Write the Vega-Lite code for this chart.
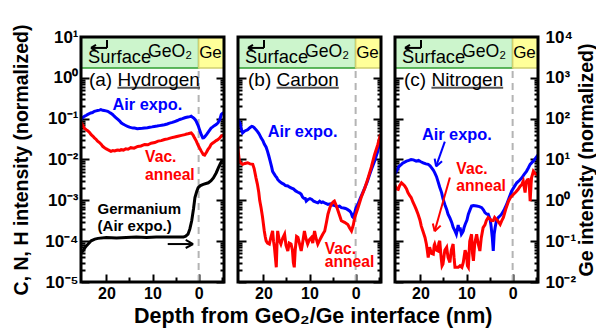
{
"$schema":"https://vega.github.io/schema/vega-lite/v6.json",
"padding":{"left":10,"top":24,"right":0,"bottom":0},
"background":"white",
"spacing":10,
"title":{"text":"Depth from GeO₂/Ge interface (nm)","orient":"bottom","anchor":"middle","fontSize":21.5,"font":"Liberation Sans","fontWeight":"bold","color":"black","offset":5,"dx":10},
"config":{"font":"Liberation Sans","view":{"stroke":null},"axis":{"domain":false,"grid":false,"tickColor":"black","tickWidth":2,"labelFont":"Liberation Sans","labelFontWeight":"bold","labelColor":"black","titleFont":"Liberation Sans","titleFontWeight":"bold","titleColor":"black"}},
"datasets":{
"boxes":[{"p":"a","part":"oxide","x1":25.5,"x2":0,"y1":1.74,"y2":10},{"p":"a","part":"gebox","x1":0,"x2":-5.5,"y1":1.74,"y2":10},{"p":"b","part":"oxide","x1":25.5,"x2":0,"y1":1.74,"y2":10},{"p":"b","part":"gebox","x1":0,"x2":-5.5,"y1":1.74,"y2":10},{"p":"c","part":"oxide","x1":25.5,"x2":0,"y1":1.74,"y2":10},{"p":"c","part":"gebox","x1":0,"x2":-5.5,"y1":1.74,"y2":10}],
"dash":[{"p":"a","x":0,"y1":0.00001,"y2":1.74},{"p":"b","x":0,"y1":0.00001,"y2":1.74},{"p":"c","x":0,"y1":0.00001,"y2":1.74}],
"frame":[{"p":"a","x1":25.5,"x2":-5.5,"y1":0.00001,"y2":10},{"p":"b","x1":25.5,"x2":-5.5,"y1":0.00001,"y2":10},{"p":"c","x1":25.5,"x2":-5.5,"y1":0.00001,"y2":10}],
"segs":[
{"p":"a","s":"ge","x1":23.33,"x2":19.86,"y1":5.4,"y2":5.4},{"p":"a","s":"ge","x1":19.86,"x2":19.86,"y1":5.4,"y2":8.45},{"p":"a","s":"ge","x1":23.33,"x2":22.25,"y1":5.4,"y2":6.38},{"p":"a","s":"ge","x1":23.33,"x2":22.25,"y1":5.4,"y2":4.56},
{"p":"b","s":"ge","x1":23.33,"x2":19.86,"y1":5.4,"y2":5.4},{"p":"b","s":"ge","x1":19.86,"x2":19.86,"y1":5.4,"y2":8.45},{"p":"b","s":"ge","x1":23.33,"x2":22.25,"y1":5.4,"y2":6.38},{"p":"b","s":"ge","x1":23.33,"x2":22.25,"y1":5.4,"y2":4.56},
{"p":"c","s":"ge","x1":23.33,"x2":19.86,"y1":5.4,"y2":5.4},{"p":"c","s":"ge","x1":19.86,"x2":19.86,"y1":5.4,"y2":8.45},{"p":"c","s":"ge","x1":23.33,"x2":22.25,"y1":5.4,"y2":6.38},{"p":"c","s":"ge","x1":23.33,"x2":22.25,"y1":5.4,"y2":4.56},
{"p":"a","s":"ul","x1":17.6,"x2":-0.3,"y1":0.575,"y2":0.575},
{"p":"a","s":"ge","x1":6.7,"x2":1.2,"y1":8.5e-5,"y2":8.5e-5},
{"p":"a","s":"ge","x1":1.2,"x2":2.8,"y1":8.5e-5,"y2":1.07e-4},
{"p":"a","s":"ge","x1":1.2,"x2":2.8,"y1":8.5e-5,"y2":6.8e-5},
{"p":"b","s":"ul","x1":17.15,"x2":3.65,"y1":0.575,"y2":0.575},
{"p":"c","s":"ul","x1":17.6,"x2":2.05,"y1":0.575,"y2":0.575},
{"p":"c","s":"air","x1":14.7,"x2":16.6,"y1":2.75e-2,"y2":6.76e-3},
{"p":"c","s":"air","x1":16.6,"x2":15.3,"y1":6.76e-3,"y2":9.1e-3},
{"p":"c","s":"air","x1":16.6,"x2":16.9,"y1":6.76e-3,"y2":1.05e-2},
{"p":"c","s":"vac","x1":13.6,"x2":16.9,"y1":3.63e-3,"y2":1.74e-4},
{"p":"c","s":"vac","x1":16.9,"x2":15.6,"y1":1.74e-4,"y2":2.4e-4},
{"p":"c","s":"vac","x1":16.9,"x2":17.3,"y1":1.74e-4,"y2":2.7e-4}],
"notes":[
{"p":"a","role":"ptitle","x":23.77,"y":0.89,"t":"(a) Hydrogen"},
{"p":"a","role":"surface","x":23.98,"y":3.0,"t":"Surface"},
{"p":"a","role":"geo","x":6.2,"y":4.3,"t":"GeO₂"},
{"p":"a","role":"ge","x":-2.57,"y":4.0,"t":"Ge"},
{"p":"a","role":"air","x":11.1,"y":0.22,"t":"Air expo."},
{"p":"a","role":"vac","x":11.6,"y":0.0117,"t":"Vac."},
{"p":"a","role":"vac","x":11.6,"y":0.00427,"t":"anneal"},
{"p":"a","role":"gelab","x":21.9,"y":6.0e-4,"t":"Germanium"},
{"p":"a","role":"gelab","x":21.9,"y":2.34e-4,"t":"(Air expo.)"},
{"p":"b","role":"ptitle","x":23.33,"y":0.89,"t":"(b) Carbon"},
{"p":"b","role":"surface","x":23.98,"y":3.0,"t":"Surface"},
{"p":"b","role":"geo","x":6.2,"y":4.3,"t":"GeO₂"},
{"p":"b","role":"ge","x":-2.57,"y":4.0,"t":"Ge"},
{"p":"b","role":"air","x":11.5,"y":0.046,"t":"Air expo."},
{"p":"b","role":"vac","x":6.7,"y":6.3e-5,"t":"Vac."},
{"p":"b","role":"vac","x":6.7,"y":3.1e-5,"t":"anneal"},
{"p":"c","role":"ptitle","x":23.55,"y":0.89,"t":"(c) Nitrogen"},
{"p":"c","role":"surface","x":23.98,"y":3.0,"t":"Surface"},
{"p":"c","role":"geo","x":6.2,"y":4.3,"t":"GeO₂"},
{"p":"c","role":"ge","x":-2.57,"y":4.0,"t":"Ge"},
{"p":"c","role":"air","x":12.1,"y":0.0407,"t":"Air expo."},
{"p":"c","role":"vac","x":12.2,"y":5.75e-3,"t":"Vac."},
{"p":"c","role":"vac","x":12.2,"y":2.19e-3,"t":"anneal"}],
"curves":[
{"p":"a","s":"air","x":25.5,"y":0.0955},{"p":"a","s":"air","x":25.2,"y":0.105},{"p":"a","s":"air","x":24.9,"y":0.112},{"p":"a","s":"air","x":24.6,"y":0.117},{"p":"a","s":"air","x":24.3,"y":0.121},{"p":"a","s":"air","x":24.1,"y":0.126},{"p":"a","s":"air","x":23.7,"y":0.132},{"p":"a","s":"air","x":23.4,"y":0.138},{"p":"a","s":"air","x":23.0,"y":0.141},{"p":"a","s":"air","x":22.6,"y":0.151},{"p":"a","s":"air","x":22.2,"y":0.155},{"p":"a","s":"air","x":21.9,"y":0.158},{"p":"a","s":"air","x":21.5,"y":0.162},{"p":"a","s":"air","x":21.2,"y":0.166},{"p":"a","s":"air","x":20.8,"y":0.160},{"p":"a","s":"air","x":20.5,"y":0.158},{"p":"a","s":"air","x":20.1,"y":0.155},{"p":"a","s":"air","x":19.7,"y":0.151},{"p":"a","s":"air","x":19.3,"y":0.141},{"p":"a","s":"air","x":19.0,"y":0.135},{"p":"a","s":"air","x":18.6,"y":0.125},{"p":"a","s":"air","x":18.3,"y":0.115},{"p":"a","s":"air","x":17.9,"y":0.105},{"p":"a","s":"air","x":17.5,"y":0.0955},{"p":"a","s":"air","x":17.1,"y":0.087},{"p":"a","s":"air","x":16.8,"y":0.0794},{"p":"a","s":"air","x":16.4,"y":0.0741},{"p":"a","s":"air","x":16.1,"y":0.0708},{"p":"a","s":"air","x":15.7,"y":0.067},{"p":"a","s":"air","x":15.4,"y":0.0646},{"p":"a","s":"air","x":15.0,"y":0.062},{"p":"a","s":"air","x":14.6,"y":0.0603},{"p":"a","s":"air","x":14.2,"y":0.059},{"p":"a","s":"air","x":13.9,"y":0.0589},{"p":"a","s":"air","x":13.3,"y":0.057},{"p":"a","s":"air","x":12.8,"y":0.0575},{"p":"a","s":"air","x":12.2,"y":0.058},{"p":"a","s":"air","x":11.7,"y":0.0589},{"p":"a","s":"air","x":11.1,"y":0.06},{"p":"a","s":"air","x":10.6,"y":0.0617},{"p":"a","s":"air","x":10.1,"y":0.063},{"p":"a","s":"air","x":9.6,"y":0.0646},{"p":"a","s":"air","x":9.0,"y":0.066},{"p":"a","s":"air","x":8.5,"y":0.0676},{"p":"a","s":"air","x":8.0,"y":0.069},{"p":"a","s":"air","x":7.4,"y":0.0708},{"p":"a","s":"air","x":6.8,"y":0.074},{"p":"a","s":"air","x":6.3,"y":0.0776},{"p":"a","s":"air","x":5.7,"y":0.081},{"p":"a","s":"air","x":5.2,"y":0.0851},{"p":"a","s":"air","x":4.6,"y":0.09},{"p":"a","s":"air","x":4.1,"y":0.0955},{"p":"a","s":"air","x":3.5,"y":0.1},{"p":"a","s":"air","x":3.0,"y":0.105},{"p":"a","s":"air","x":2.6,"y":0.108},{"p":"a","s":"air","x":2.3,"y":0.11},{"p":"a","s":"air","x":1.9,"y":0.112},{"p":"a","s":"air","x":1.6,"y":0.115},{"p":"a","s":"air","x":1.3,"y":0.108},{"p":"a","s":"air","x":1.0,"y":0.102},{"p":"a","s":"air","x":0.7,"y":0.093},{"p":"a","s":"air","x":0.5,"y":0.0851},{"p":"a","s":"air","x":0.3,"y":0.076},{"p":"a","s":"air","x":0.1,"y":0.0676},{"p":"a","s":"air","x":-0.2,"y":0.0537},{"p":"a","s":"air","x":-0.4,"y":0.046},{"p":"a","s":"air","x":-0.6,"y":0.0398},{"p":"a","s":"air","x":-0.9,"y":0.0339},{"p":"a","s":"air","x":-1.1,"y":0.034},{"p":"a","s":"air","x":-1.3,"y":0.0355},{"p":"a","s":"air","x":-1.7,"y":0.0407},{"p":"a","s":"air","x":-2.2,"y":0.049},{"p":"a","s":"air","x":-2.7,"y":0.0589},{"p":"a","s":"air","x":-3.0,"y":0.062},{"p":"a","s":"air","x":-3.4,"y":0.0676},{"p":"a","s":"air","x":-3.8,"y":0.072},{"p":"a","s":"air","x":-4.2,"y":0.0794},{"p":"a","s":"air","x":-4.6,"y":0.0955},{"p":"a","s":"air","x":-4.9,"y":0.126},{"p":"a","s":"air","x":-5.2,"y":0.135},{"p":"a","s":"air","x":-5.5,"y":0.141},
{"p":"a","s":"vac","x":25.5,"y":0.0832},{"p":"a","s":"vac","x":25.2,"y":0.0708},{"p":"a","s":"vac","x":24.8,"y":0.0589},{"p":"a","s":"vac","x":24.4,"y":0.054},{"p":"a","s":"vac","x":24.0,"y":0.0501},{"p":"a","s":"vac","x":23.6,"y":0.045},{"p":"a","s":"vac","x":23.3,"y":0.0407},{"p":"a","s":"vac","x":22.9,"y":0.037},{"p":"a","s":"vac","x":22.6,"y":0.0339},{"p":"a","s":"vac","x":22.2,"y":0.031},{"p":"a","s":"vac","x":21.9,"y":0.0282},{"p":"a","s":"vac","x":21.5,"y":0.026},{"p":"a","s":"vac","x":21.1,"y":0.0234},{"p":"a","s":"vac","x":20.8,"y":0.021},{"p":"a","s":"vac","x":20.4,"y":0.0195},{"p":"a","s":"vac","x":20.0,"y":0.0182},{"p":"a","s":"vac","x":19.7,"y":0.0174},{"p":"a","s":"vac","x":19.3,"y":0.0165},{"p":"a","s":"vac","x":19.0,"y":0.0158},{"p":"a","s":"vac","x":18.6,"y":0.0165},{"p":"a","s":"vac","x":18.2,"y":0.0162},{"p":"a","s":"vac","x":17.8,"y":0.0168},{"p":"a","s":"vac","x":17.5,"y":0.017},{"p":"a","s":"vac","x":17.1,"y":0.0166},{"p":"a","s":"vac","x":16.8,"y":0.0174},{"p":"a","s":"vac","x":16.3,"y":0.017},{"p":"a","s":"vac","x":15.8,"y":0.0182},{"p":"a","s":"vac","x":15.3,"y":0.0178},{"p":"a","s":"vac","x":14.7,"y":0.0195},{"p":"a","s":"vac","x":14.0,"y":0.019},{"p":"a","s":"vac","x":13.2,"y":0.0209},{"p":"a","s":"vac","x":12.5,"y":0.0215},{"p":"a","s":"vac","x":11.7,"y":0.0234},{"p":"a","s":"vac","x":11.0,"y":0.023},{"p":"a","s":"vac","x":10.3,"y":0.0251},{"p":"a","s":"vac","x":9.5,"y":0.026},{"p":"a","s":"vac","x":8.8,"y":0.0282},{"p":"a","s":"vac","x":8.1,"y":0.029},{"p":"a","s":"vac","x":7.4,"y":0.0309},{"p":"a","s":"vac","x":6.7,"y":0.032},{"p":"a","s":"vac","x":6.0,"y":0.0339},{"p":"a","s":"vac","x":5.2,"y":0.0355},{"p":"a","s":"vac","x":4.5,"y":0.0372},{"p":"a","s":"vac","x":3.7,"y":0.039},{"p":"a","s":"vac","x":3.0,"y":0.0407},{"p":"a","s":"vac","x":2.6,"y":0.042},{"p":"a","s":"vac","x":2.3,"y":0.0427},{"p":"a","s":"vac","x":1.9,"y":0.044},{"p":"a","s":"vac","x":1.6,"y":0.0447},{"p":"a","s":"vac","x":1.2,"y":0.0398},{"p":"a","s":"vac","x":0.9,"y":0.0339},{"p":"a","s":"vac","x":0.5,"y":0.0282},{"p":"a","s":"vac","x":0.2,"y":0.0234},{"p":"a","s":"vac","x":-0.2,"y":0.0191},{"p":"a","s":"vac","x":-0.6,"y":0.0158},{"p":"a","s":"vac","x":-1.0,"y":0.0132},{"p":"a","s":"vac","x":-1.3,"y":0.0128},{"p":"a","s":"vac","x":-1.7,"y":0.0151},{"p":"a","s":"vac","x":-2.0,"y":0.0174},{"p":"a","s":"vac","x":-2.4,"y":0.02},{"p":"a","s":"vac","x":-2.7,"y":0.0234},{"p":"a","s":"vac","x":-3.0,"y":0.025},{"p":"a","s":"vac","x":-3.4,"y":0.0269},{"p":"a","s":"vac","x":-3.8,"y":0.029},{"p":"a","s":"vac","x":-4.2,"y":0.0309},{"p":"a","s":"vac","x":-4.6,"y":0.034},{"p":"a","s":"vac","x":-4.9,"y":0.0372},{"p":"a","s":"vac","x":-5.2,"y":0.039},{"p":"a","s":"vac","x":-5.5,"y":0.0398},
{"p":"a","s":"ge","x":25.5,"y":5.01e-5},{"p":"a","s":"ge","x":25.1,"y":5.75e-5},{"p":"a","s":"ge","x":24.7,"y":6.76e-5},{"p":"a","s":"ge","x":24.3,"y":7.76e-5},{"p":"a","s":"ge","x":23.8,"y":8.91e-5},{"p":"a","s":"ge","x":23.3,"y":1.02e-4},{"p":"a","s":"ge","x":22.5,"y":1.12e-4},{"p":"a","s":"ge","x":21.8,"y":1.17e-4},{"p":"a","s":"ge","x":20.0,"y":1.23e-4},{"p":"a","s":"ge","x":17.8,"y":1.2e-4},{"p":"a","s":"ge","x":15.7,"y":1.23e-4},{"p":"a","s":"ge","x":13.5,"y":1.26e-4},{"p":"a","s":"ge","x":11.3,"y":1.23e-4},{"p":"a","s":"ge","x":9.2,"y":1.26e-4},{"p":"a","s":"ge","x":7.0,"y":1.26e-4},{"p":"a","s":"ge","x":5.1,"y":1.26e-4},{"p":"a","s":"ge","x":3.3,"y":1.26e-4},{"p":"a","s":"ge","x":2.8,"y":1.32e-4},{"p":"a","s":"ge","x":2.3,"y":1.48e-4},{"p":"a","s":"ge","x":1.9,"y":2.0e-4},{"p":"a","s":"ge","x":1.5,"y":3.16e-4},{"p":"a","s":"ge","x":1.1,"y":6.31e-4},{"p":"a","s":"ge","x":0.8,"y":1.17e-3},{"p":"a","s":"ge","x":0.4,"y":1.66e-3},{"p":"a","s":"ge","x":0.1,"y":2.04e-3},{"p":"a","s":"ge","x":-0.4,"y":2.29e-3},{"p":"a","s":"ge","x":-1.0,"y":2.45e-3},{"p":"a","s":"ge","x":-2.1,"y":2.69e-3},{"p":"a","s":"ge","x":-2.7,"y":3.02e-3},{"p":"a","s":"ge","x":-3.2,"y":3.55e-3},{"p":"a","s":"ge","x":-3.8,"y":4.68e-3},{"p":"a","s":"ge","x":-4.3,"y":6.31e-3},{"p":"a","s":"ge","x":-4.7,"y":7.94e-3},{"p":"a","s":"ge","x":-5.2,"y":1.0e-2},
{"p":"b","s":"air","x":25.5,"y":0.0794},{"p":"b","s":"air","x":25.3,"y":0.0851},{"p":"b","s":"air","x":25.1,"y":0.08},{"p":"b","s":"air","x":24.8,"y":0.0562},{"p":"b","s":"air","x":24.5,"y":0.0447},{"p":"b","s":"air","x":24.2,"y":0.048},{"p":"b","s":"air","x":24.0,"y":0.0501},{"p":"b","s":"air","x":23.7,"y":0.052},{"p":"b","s":"air","x":23.4,"y":0.0537},{"p":"b","s":"air","x":23.1,"y":0.058},{"p":"b","s":"air","x":22.8,"y":0.0617},{"p":"b","s":"air","x":22.5,"y":0.0646},{"p":"b","s":"air","x":22.3,"y":0.064},{"p":"b","s":"air","x":22.0,"y":0.0603},{"p":"b","s":"air","x":21.8,"y":0.057},{"p":"b","s":"air","x":21.6,"y":0.0537},{"p":"b","s":"air","x":21.3,"y":0.049},{"p":"b","s":"air","x":21.0,"y":0.0437},{"p":"b","s":"air","x":20.7,"y":0.038},{"p":"b","s":"air","x":20.5,"y":0.0339},{"p":"b","s":"air","x":20.1,"y":0.029},{"p":"b","s":"air","x":19.8,"y":0.024},{"p":"b","s":"air","x":19.4,"y":0.02},{"p":"b","s":"air","x":19.1,"y":0.0158},{"p":"b","s":"air","x":18.8,"y":0.012},{"p":"b","s":"air","x":18.5,"y":0.00891},{"p":"b","s":"air","x":18.2,"y":0.0065},{"p":"b","s":"air","x":18.0,"y":0.00513},{"p":"b","s":"air","x":17.7,"y":0.0045},{"p":"b","s":"air","x":17.4,"y":0.00398},{"p":"b","s":"air","x":17.1,"y":0.0036},{"p":"b","s":"air","x":16.9,"y":0.00324},{"p":"b","s":"air","x":16.5,"y":0.0029},{"p":"b","s":"air","x":16.0,"y":0.00263},{"p":"b","s":"air","x":15.6,"y":0.0025},{"p":"b","s":"air","x":15.2,"y":0.0023},{"p":"b","s":"air","x":14.7,"y":0.00224},{"p":"b","s":"air","x":14.3,"y":0.0021},{"p":"b","s":"air","x":13.9,"y":0.002},{"p":"b","s":"air","x":13.5,"y":0.00191},{"p":"b","s":"air","x":13.0,"y":0.0017},{"p":"b","s":"air","x":12.5,"y":0.00158},{"p":"b","s":"air","x":12.1,"y":0.0015},{"p":"b","s":"air","x":11.8,"y":0.00141},{"p":"b","s":"air","x":11.5,"y":0.0012},{"p":"b","s":"air","x":11.2,"y":0.00112},{"p":"b","s":"air","x":10.9,"y":0.0011},{"p":"b","s":"air","x":10.7,"y":0.000955},{"p":"b","s":"air","x":10.3,"y":0.00105},{"p":"b","s":"air","x":9.9,"y":0.0011},{"p":"b","s":"air","x":9.5,"y":0.00105},{"p":"b","s":"air","x":9.1,"y":0.00095},{"p":"b","s":"air","x":8.6,"y":0.0009},{"p":"b","s":"air","x":8.2,"y":0.00087},{"p":"b","s":"air","x":7.8,"y":0.00095},{"p":"b","s":"air","x":7.4,"y":0.00088},{"p":"b","s":"air","x":7.1,"y":0.000912},{"p":"b","s":"air","x":6.6,"y":0.00085},{"p":"b","s":"air","x":6.0,"y":0.000794},{"p":"b","s":"air","x":5.5,"y":0.00082},{"p":"b","s":"air","x":5.0,"y":0.00076},{"p":"b","s":"air","x":4.5,"y":0.000741},{"p":"b","s":"air","x":4.0,"y":0.0007},{"p":"b","s":"air","x":3.5,"y":0.00072},{"p":"b","s":"air","x":3.1,"y":0.000661},{"p":"b","s":"air","x":2.6,"y":0.00065},{"p":"b","s":"air","x":2.2,"y":0.000631},{"p":"b","s":"air","x":1.8,"y":0.0006},{"p":"b","s":"air","x":1.3,"y":0.00055},{"p":"b","s":"air","x":1.0,"y":0.0005},{"p":"b","s":"air","x":0.7,"y":0.0004},{"p":"b","s":"air","x":0.5,"y":0.00038},{"p":"b","s":"air","x":0.3,"y":0.00045},{"p":"b","s":"air","x":0.1,"y":0.00055},{"p":"b","s":"air","x":-0.1,"y":0.000661},{"p":"b","s":"air","x":-0.5,"y":0.0008},{"p":"b","s":"air","x":-1.0,"y":0.00112},{"p":"b","s":"air","x":-1.5,"y":0.0015},{"p":"b","s":"air","x":-2.0,"y":0.00204},{"p":"b","s":"air","x":-2.5,"y":0.0028},{"p":"b","s":"air","x":-3.0,"y":0.00417},{"p":"b","s":"air","x":-3.5,"y":0.006},{"p":"b","s":"air","x":-4.1,"y":0.00912},{"p":"b","s":"air","x":-4.5,"y":0.0125},{"p":"b","s":"air","x":-4.8,"y":0.0158},{"p":"b","s":"air","x":-5.1,"y":0.025},{"p":"b","s":"air","x":-5.5,"y":0.0355},
{"p":"b","s":"vac","x":25.6,"y":0.0234},{"p":"b","s":"vac","x":25.5,"y":0.018},{"p":"b","s":"vac","x":25.4,"y":0.0141},{"p":"b","s":"vac","x":25.2,"y":0.00912},{"p":"b","s":"vac","x":24.9,"y":0.0082},{"p":"b","s":"vac","x":24.5,"y":0.00759},{"p":"b","s":"vac","x":24.0,"y":0.008},{"p":"b","s":"vac","x":23.4,"y":0.00832},{"p":"b","s":"vac","x":22.9,"y":0.0078},{"p":"b","s":"vac","x":22.3,"y":0.00759},{"p":"b","s":"vac","x":22.0,"y":0.006},{"p":"b","s":"vac","x":21.6,"y":0.00355},{"p":"b","s":"vac","x":21.3,"y":0.0025},{"p":"b","s":"vac","x":21.0,"y":0.00158},{"p":"b","s":"vac","x":20.8,"y":0.001},{"p":"b","s":"vac","x":20.5,"y":0.000661},{"p":"b","s":"vac","x":20.2,"y":0.0004},{"p":"b","s":"vac","x":19.8,"y":0.000178},{"p":"b","s":"vac","x":19.6,"y":0.00013},{"p":"b","s":"vac","x":19.4,"y":0.000102},{"p":"b","s":"vac","x":19.1,"y":0.00009},{"p":"b","s":"vac","x":18.7,"y":0.0000851},{"p":"b","s":"vac","x":18.4,"y":0.00012},{"p":"b","s":"vac","x":18.0,"y":0.000178},{"p":"b","s":"vac","x":17.8,"y":0.0001},{"p":"b","s":"vac","x":17.6,"y":0.0000708},{"p":"b","s":"vac","x":17.4,"y":0.00004},{"p":"b","s":"vac","x":17.2,"y":0.0000229},{"p":"b","s":"vac","x":17.05,"y":0.00008},{"p":"b","s":"vac","x":16.9,"y":0.000178},{"p":"b","s":"vac","x":16.6,"y":0.00011},{"p":"b","s":"vac","x":16.2,"y":0.0000851},{"p":"b","s":"vac","x":15.8,"y":0.00012},{"p":"b","s":"vac","x":15.4,"y":0.000148},{"p":"b","s":"vac","x":15.1,"y":0.00008},{"p":"b","s":"vac","x":14.7,"y":0.0000575},{"p":"b","s":"vac","x":14.4,"y":0.00009},{"p":"b","s":"vac","x":14.0,"y":0.0000851},{"p":"b","s":"vac","x":13.7,"y":0.00006},{"p":"b","s":"vac","x":13.5,"y":0.00003},{"p":"b","s":"vac","x":13.3,"y":0.0000229},{"p":"b","s":"vac","x":13.1,"y":0.00006},{"p":"b","s":"vac","x":12.8,"y":0.00013},{"p":"b","s":"vac","x":12.5,"y":0.000123},{"p":"b","s":"vac","x":12.2,"y":0.00009},{"p":"b","s":"vac","x":11.8,"y":0.0000575},{"p":"b","s":"vac","x":11.5,"y":0.00009},{"p":"b","s":"vac","x":11.1,"y":0.000178},{"p":"b","s":"vac","x":10.8,"y":0.00012},{"p":"b","s":"vac","x":10.4,"y":0.0000851},{"p":"b","s":"vac","x":10.0,"y":0.00011},{"p":"b","s":"vac","x":9.6,"y":0.000123},{"p":"b","s":"vac","x":9.3,"y":0.00009},{"p":"b","s":"vac","x":8.9,"y":0.000178},{"p":"b","s":"vac","x":8.6,"y":0.00012},{"p":"b","s":"vac","x":8.2,"y":0.0000851},{"p":"b","s":"vac","x":7.9,"y":0.0001},{"p":"b","s":"vac","x":7.5,"y":0.000123},{"p":"b","s":"vac","x":7.1,"y":0.00015},{"p":"b","s":"vac","x":6.7,"y":0.000178},{"p":"b","s":"vac","x":6.3,"y":0.0003},{"p":"b","s":"vac","x":6.0,"y":0.000457},{"p":"b","s":"vac","x":5.6,"y":0.00065},{"p":"b","s":"vac","x":5.3,"y":0.000794},{"p":"b","s":"vac","x":4.9,"y":0.0009},{"p":"b","s":"vac","x":4.6,"y":0.000955},{"p":"b","s":"vac","x":4.2,"y":0.00075},{"p":"b","s":"vac","x":3.8,"y":0.00055},{"p":"b","s":"vac","x":3.4,"y":0.0004},{"p":"b","s":"vac","x":3.1,"y":0.000316},{"p":"b","s":"vac","x":2.4,"y":0.00029},{"p":"b","s":"vac","x":1.7,"y":0.000257},{"p":"b","s":"vac","x":1.3,"y":0.00021},{"p":"b","s":"vac","x":0.9,"y":0.000178},{"p":"b","s":"vac","x":0.5,"y":0.00025},{"p":"b","s":"vac","x":0.2,"y":0.00038},{"p":"b","s":"vac","x":-0.5,"y":0.00065},{"p":"b","s":"vac","x":-1.2,"y":0.00117},{"p":"b","s":"vac","x":-2.0,"y":0.002},{"p":"b","s":"vac","x":-2.7,"y":0.00355},{"p":"b","s":"vac","x":-3.4,"y":0.0065},{"p":"b","s":"vac","x":-4.1,"y":0.0132},{"p":"b","s":"vac","x":-4.8,"y":0.023},{"p":"b","s":"vac","x":-5.4,"y":0.0417},
{"p":"c","s":"air","x":25.5,"y":0.0045},{"p":"c","s":"air","x":25.2,"y":0.00513},{"p":"c","s":"air","x":24.9,"y":0.006},{"p":"c","s":"air","x":24.6,"y":0.0068},{"p":"c","s":"air","x":24.1,"y":0.00759},{"p":"c","s":"air","x":23.8,"y":0.0082},{"p":"c","s":"air","x":23.5,"y":0.0085},{"p":"c","s":"air","x":23.0,"y":0.00912},{"p":"c","s":"air","x":22.5,"y":0.0095},{"p":"c","s":"air","x":22.0,"y":0.01},{"p":"c","s":"air","x":21.5,"y":0.0098},{"p":"c","s":"air","x":20.9,"y":0.00912},{"p":"c","s":"air","x":20.4,"y":0.0095},{"p":"c","s":"air","x":19.9,"y":0.0088},{"p":"c","s":"air","x":19.4,"y":0.00832},{"p":"c","s":"air","x":18.8,"y":0.0078},{"p":"c","s":"air","x":18.3,"y":0.00759},{"p":"c","s":"air","x":17.9,"y":0.007},{"p":"c","s":"air","x":17.6,"y":0.00631},{"p":"c","s":"air","x":17.2,"y":0.0055},{"p":"c","s":"air","x":16.9,"y":0.00479},{"p":"c","s":"air","x":16.5,"y":0.0038},{"p":"c","s":"air","x":16.2,"y":0.00295},{"p":"c","s":"air","x":15.8,"y":0.0021},{"p":"c","s":"air","x":15.4,"y":0.00155},{"p":"c","s":"air","x":15.1,"y":0.0011},{"p":"c","s":"air","x":14.7,"y":0.000794},{"p":"c","s":"air","x":14.3,"y":0.0006},{"p":"c","s":"air","x":14.0,"y":0.000457},{"p":"c","s":"air","x":13.6,"y":0.00037},{"p":"c","s":"air","x":13.2,"y":0.000288},{"p":"c","s":"air","x":12.9,"y":0.00022},{"p":"c","s":"air","x":12.5,"y":0.000178},{"p":"c","s":"air","x":12.2,"y":0.000148},{"p":"c","s":"air","x":12.0,"y":0.00019},{"p":"c","s":"air","x":11.8,"y":0.00025},{"p":"c","s":"air","x":11.6,"y":0.00018},{"p":"c","s":"air","x":11.4,"y":0.000214},{"p":"c","s":"air","x":11.1,"y":0.000148},{"p":"c","s":"air","x":10.9,"y":0.00016},{"p":"c","s":"air","x":10.7,"y":0.000178},{"p":"c","s":"air","x":10.5,"y":0.00022},{"p":"c","s":"air","x":10.3,"y":0.000257},{"p":"c","s":"air","x":9.9,"y":0.00033},{"p":"c","s":"air","x":9.6,"y":0.000457},{"p":"c","s":"air","x":9.2,"y":0.0006},{"p":"c","s":"air","x":8.9,"y":0.000724},{"p":"c","s":"air","x":8.5,"y":0.00075},{"p":"c","s":"air","x":7.8,"y":0.000724},{"p":"c","s":"air","x":7.2,"y":0.0007},{"p":"c","s":"air","x":6.7,"y":0.000661},{"p":"c","s":"air","x":6.3,"y":0.00058},{"p":"c","s":"air","x":6.0,"y":0.000501},{"p":"c","s":"air","x":5.6,"y":0.00046},{"p":"c","s":"air","x":5.3,"y":0.000457},{"p":"c","s":"air","x":4.9,"y":0.000347},{"p":"c","s":"air","x":4.7,"y":0.00025},{"p":"c","s":"air","x":4.4,"y":0.00012},{"p":"c","s":"air","x":4.2,"y":0.0000575},{"p":"c","s":"air","x":4.0,"y":0.00015},{"p":"c","s":"air","x":3.8,"y":0.000214},{"p":"c","s":"air","x":3.5,"y":0.00032},{"p":"c","s":"air","x":3.1,"y":0.00038},{"p":"c","s":"air","x":2.7,"y":0.00042},{"p":"c","s":"air","x":2.4,"y":0.000457},{"p":"c","s":"air","x":1.8,"y":0.0006},{"p":"c","s":"air","x":1.3,"y":0.000794},{"p":"c","s":"air","x":0.7,"y":0.0012},{"p":"c","s":"air","x":0.2,"y":0.0017},{"p":"c","s":"air","x":-0.4,"y":0.0022},{"p":"c","s":"air","x":-0.9,"y":0.00269},{"p":"c","s":"air","x":-1.5,"y":0.0031},{"p":"c","s":"air","x":-2.0,"y":0.00355},{"p":"c","s":"air","x":-2.5,"y":0.0043},{"p":"c","s":"air","x":-3.0,"y":0.00513},{"p":"c","s":"air","x":-3.4,"y":0.0062},{"p":"c","s":"air","x":-3.8,"y":0.00759},{"p":"c","s":"air","x":-4.2,"y":0.0085},{"p":"c","s":"air","x":-4.5,"y":0.00912},{"p":"c","s":"air","x":-4.9,"y":0.0105},{"p":"c","s":"air","x":-5.3,"y":0.012},{"p":"c","s":"air","x":-5.5,"y":0.013},
{"p":"c","s":"vac","x":25.6,"y":0.00245},{"p":"c","s":"vac","x":25.3,"y":0.0021},{"p":"c","s":"vac","x":25.1,"y":0.0019},{"p":"c","s":"vac","x":24.8,"y":0.00186},{"p":"c","s":"vac","x":24.5,"y":0.0023},{"p":"c","s":"vac","x":24.1,"y":0.00269},{"p":"c","s":"vac","x":23.8,"y":0.0025},{"p":"c","s":"vac","x":23.4,"y":0.00224},{"p":"c","s":"vac","x":23.0,"y":0.0019},{"p":"c","s":"vac","x":22.7,"y":0.00155},{"p":"c","s":"vac","x":22.3,"y":0.0013},{"p":"c","s":"vac","x":22.0,"y":0.00117},{"p":"c","s":"vac","x":21.6,"y":0.0009},{"p":"c","s":"vac","x":21.2,"y":0.000724},{"p":"c","s":"vac","x":20.9,"y":0.0006},{"p":"c","s":"vac","x":20.5,"y":0.000457},{"p":"c","s":"vac","x":20.1,"y":0.00033},{"p":"c","s":"vac","x":19.8,"y":0.000234},{"p":"c","s":"vac","x":19.4,"y":0.00017},{"p":"c","s":"vac","x":19.0,"y":0.000123},{"p":"c","s":"vac","x":18.7,"y":0.0000851},{"p":"c","s":"vac","x":18.5,"y":0.00006},{"p":"c","s":"vac","x":18.3,"y":0.0000398},{"p":"c","s":"vac","x":18.1,"y":0.00006},{"p":"c","s":"vac","x":18.0,"y":0.0000708},{"p":"c","s":"vac","x":17.6,"y":0.00005},{"p":"c","s":"vac","x":17.2,"y":0.0000479},{"p":"c","s":"vac","x":17.0,"y":0.00008},{"p":"c","s":"vac","x":16.9,"y":0.0000851},{"p":"c","s":"vac","x":16.5,"y":0.00006},{"p":"c","s":"vac","x":16.2,"y":0.0000575},{"p":"c","s":"vac","x":16.0,"y":0.00009},{"p":"c","s":"vac","x":15.8,"y":0.000102},{"p":"c","s":"vac","x":15.5,"y":0.00004},{"p":"c","s":"vac","x":15.3,"y":0.000025},{"p":"c","s":"vac","x":15.1,"y":0.0000275},{"p":"c","s":"vac","x":14.7,"y":0.00006},{"p":"c","s":"vac","x":14.3,"y":0.0000708},{"p":"c","s":"vac","x":14.0,"y":0.00004},{"p":"c","s":"vac","x":13.6,"y":0.0000302},{"p":"c","s":"vac","x":13.3,"y":0.00006},{"p":"c","s":"vac","x":12.9,"y":0.0000851},{"p":"c","s":"vac","x":12.7,"y":0.00004},{"p":"c","s":"vac","x":12.5,"y":0.0000229},{"p":"c","s":"vac","x":12.2,"y":0.0000229},{"p":"c","s":"vac","x":11.8,"y":0.0000229},{"p":"c","s":"vac","x":11.4,"y":0.000025},{"p":"c","s":"vac","x":11.0,"y":0.0000229},{"p":"c","s":"vac","x":10.7,"y":0.00003},{"p":"c","s":"vac","x":10.3,"y":0.00006},{"p":"c","s":"vac","x":10.0,"y":0.0000479},{"p":"c","s":"vac","x":9.8,"y":0.000025},{"p":"c","s":"vac","x":9.6,"y":0.0000229},{"p":"c","s":"vac","x":9.3,"y":0.0001},{"p":"c","s":"vac","x":8.9,"y":0.000148},{"p":"c","s":"vac","x":8.7,"y":0.00005},{"p":"c","s":"vac","x":8.5,"y":0.0000331},{"p":"c","s":"vac","x":8.2,"y":0.00009},{"p":"c","s":"vac","x":7.8,"y":0.000148},{"p":"c","s":"vac","x":7.5,"y":0.00009},{"p":"c","s":"vac","x":7.1,"y":0.0000575},{"p":"c","s":"vac","x":6.8,"y":0.00012},{"p":"c","s":"vac","x":6.4,"y":0.000214},{"p":"c","s":"vac","x":6.0,"y":0.00025},{"p":"c","s":"vac","x":5.7,"y":0.00032},{"p":"c","s":"vac","x":5.3,"y":0.00038},{"p":"c","s":"vac","x":4.9,"y":0.00035},{"p":"c","s":"vac","x":4.6,"y":0.000316},{"p":"c","s":"vac","x":4.2,"y":0.00032},{"p":"c","s":"vac","x":3.9,"y":0.00038},{"p":"c","s":"vac","x":3.5,"y":0.00034},{"p":"c","s":"vac","x":3.1,"y":0.0003},{"p":"c","s":"vac","x":2.7,"y":0.000257},{"p":"c","s":"vac","x":2.4,"y":0.00031},{"p":"c","s":"vac","x":2.0,"y":0.00038},{"p":"c","s":"vac","x":1.5,"y":0.0006},{"p":"c","s":"vac","x":0.9,"y":0.000955},{"p":"c","s":"vac","x":0.4,"y":0.0012},{"p":"c","s":"vac","x":-0.2,"y":0.00141},{"p":"c","s":"vac","x":-0.7,"y":0.0016},{"p":"c","s":"vac","x":-1.2,"y":0.00186},{"p":"c","s":"vac","x":-1.6,"y":0.0022},{"p":"c","s":"vac","x":-2.0,"y":0.00245},{"p":"c","s":"vac","x":-2.3,"y":0.00295},{"p":"c","s":"vac","x":-2.7,"y":0.00155},{"p":"c","s":"vac","x":-3.0,"y":0.00295},{"p":"c","s":"vac","x":-3.2,"y":0.0032},{"p":"c","s":"vac","x":-3.4,"y":0.00324},{"p":"c","s":"vac","x":-3.6,"y":0.0025},{"p":"c","s":"vac","x":-3.8,"y":0.00095},{"p":"c","s":"vac","x":-4.0,"y":0.0025},{"p":"c","s":"vac","x":-4.1,"y":0.00355},{"p":"c","s":"vac","x":-4.5,"y":0.00513},{"p":"c","s":"vac","x":-4.9,"y":0.0045},{"p":"c","s":"vac","x":-5.3,"y":0.0042},{"p":"c","s":"vac","x":-5.5,"y":0.0043}]
},
"hconcat":[
{"width":143,"height":245,"resolve":{"axis":{"x":"independent","y":"independent"}},
"layer":[
{"data":{"name":"boxes"},"transform":[{"filter":"datum.p=='a'"}],"mark":{"type":"rect","strokeWidth":1.5},
"encoding":{"x":{"field":"x1","type":"quantitative","scale":{"domain":[25.5,-5.5],"nice":false,"zero":false},"axis":null},"x2":{"field":"x2"},"y":{"field":"y1","type":"quantitative","scale":{"type":"log","domain":[0.00001,10],"nice":false},"axis":null},"y2":{"field":"y2"},
"fill":{"field":"part","type":"nominal","legend":null,"scale":{"domain":["oxide","gebox","ptitle","surface","geo","ge","air","vac","gelab"],"range":["#ccf5cc","#ffff99","#000000","#000000","#000000","#000000","#0000ff","#ff0000","#000000"]}},
"stroke":{"field":"part","type":"nominal","legend":null,"scale":{"domain":["air","vac","ge","ul","oxide","gebox"],"range":["#0000ff","#ff0000","#000000","#555555","#2f9e2f","#d0d070"]}}}},
{"data":{"name":"dash"},"transform":[{"filter":"datum.p=='a'"}],"mark":{"type":"rule","color":"#b4b4b4","strokeWidth":2,"strokeDash":[7,5]},
"encoding":{"x":{"field":"x","type":"quantitative","axis":null},"y":{"field":"y1","type":"quantitative","axis":null},"y2":{"field":"y2"}}},
{"data":{"name":"curves"},"transform":[{"filter":"datum.p=='a'"}],"mark":{"type":"line","strokeWidth":3,"clip":true},
"encoding":{"x":{"field":"x","type":"quantitative","scale":{"domain":[25.5,-5.5],"nice":false,"zero":false},"axis":{"orient":"bottom","values":[20,15,10,5,0,-5],"labelExpr":"datum.value % 10 == 0 ? datum.label : ''","tickSize":{"condition":{"test":"datum.value % 10 == 0","value":-8},"value":-5},"labelFontSize":16,"labelPadding":11,"title":null}},
"y":{"field":"y","type":"quantitative","scale":{"type":"log","domain":[0.00001,10],"nice":false},"axis":{"orient":"left","values":[0.00001,0.00002,0.00003,0.00004,0.00005,0.00006,0.00007,0.00008,0.00009,0.0001,0.0002,0.0003,0.0004,0.0005,0.0006,0.0007,0.0008,0.0009,0.001,0.002,0.003,0.004,0.005,0.006,0.007,0.008,0.009,0.01,0.02,0.03,0.04,0.05,0.06,0.07,0.08,0.09,0.1,0.2,0.3,0.4,0.5,0.6,0.7,0.8,0.9,1,2,3,4,5,6,7,8,9,10],"labelExpr":"abs(log(datum.value)/LN10 - round(log(datum.value)/LN10)) < 0.01 ? '10' + ['⁻⁵','⁻⁴','⁻³','⁻²','⁻¹','⁰','¹'][round(log(datum.value)/LN10)+5] : ''","tickSize":{"condition":{"test":"abs(log(datum.value)/LN10 - round(log(datum.value)/LN10)) < 0.01","value":-8},"value":-4},"labelFontSize":17,"labelPadding":11,"title":"C, N, H intensity (normalized)","titleFontSize":19.5,"titleX":-60,"titleY":122.5,"titleBaseline":"middle","titleAlign":"center","titleAngle":270}},
"stroke":{"field":"s","type":"nominal","legend":null,"scale":{"domain":["air","vac","ge","ul","oxide","gebox"],"range":["#0000ff","#ff0000","#000000","#555555","#2f9e2f","#d0d070"]}},
"order":{"value":null}}},
{"data":{"name":"segs"},"transform":[{"filter":"datum.p=='a'"}],"mark":{"type":"rule","strokeWidth":2},
"encoding":{"x":{"field":"x1","type":"quantitative","axis":null},"x2":{"field":"x2"},"y":{"field":"y1","type":"quantitative","axis":null},"y2":{"field":"y2"},
"stroke":{"field":"s","type":"nominal","legend":null,"scale":{"domain":["air","vac","ge","ul","oxide","gebox"],"range":["#0000ff","#ff0000","#000000","#555555","#2f9e2f","#d0d070"]}}}},
{"data":{"name":"notes"},"transform":[{"filter":"datum.p=='a' && (datum.role=='ptitle' || datum.role=='surface')"}],"mark":{"type":"text","align":"left","baseline":"middle","fontWeight":"normal"},
"encoding":{"x":{"field":"x","type":"quantitative","axis":null},"y":{"field":"y","type":"quantitative","axis":null},"text":{"field":"t"},
"fill":{"field":"role","type":"nominal","legend":null,"scale":{"domain":["oxide","gebox","ptitle","surface","geo","ge","air","vac","gelab"],"range":["#ccf5cc","#ffff99","#000000","#000000","#000000","#000000","#0000ff","#ff0000","#000000"]}},
"size":{"field":"role","type":"nominal","legend":null,"scale":{"domain":["ptitle","surface","geo","ge","air","vac","gelab"],"range":[19,15,14,16,16,17,16]}}}},
{"data":{"name":"notes"},"transform":[{"filter":"datum.p=='a' && (datum.role=='geo' || datum.role=='ge')"}],"mark":{"type":"text","align":"center","baseline":"middle","fontWeight":"normal"},
"encoding":{"x":{"field":"x","type":"quantitative","axis":null},"y":{"field":"y","type":"quantitative","axis":null},"text":{"field":"t"},
"fill":{"field":"role","type":"nominal","legend":null,"scale":{"domain":["oxide","gebox","ptitle","surface","geo","ge","air","vac","gelab"],"range":["#ccf5cc","#ffff99","#000000","#000000","#000000","#000000","#0000ff","#ff0000","#000000"]}},
"size":{"field":"role","type":"nominal","legend":null,"scale":{"domain":["ptitle","surface","geo","ge","air","vac","gelab"],"range":[19,15,14,16,16,17,16]}}}},
{"data":{"name":"notes"},"transform":[{"filter":"datum.p=='a' && (datum.role=='vac' || datum.role=='gelab')"}],"mark":{"type":"text","align":"left","baseline":"middle","fontWeight":"bold"},
"encoding":{"x":{"field":"x","type":"quantitative","axis":null},"y":{"field":"y","type":"quantitative","axis":null},"text":{"field":"t"},
"fill":{"field":"role","type":"nominal","legend":null,"scale":{"domain":["oxide","gebox","ptitle","surface","geo","ge","air","vac","gelab"],"range":["#ccf5cc","#ffff99","#000000","#000000","#000000","#000000","#0000ff","#ff0000","#000000"]}},
"size":{"field":"role","type":"nominal","legend":null,"scale":{"domain":["ptitle","surface","geo","ge","air","vac","gelab"],"range":[19,15,14,16,16,17,16]}}}},
{"data":{"name":"notes"},"transform":[{"filter":"datum.p=='a' && datum.role=='air'"}],"mark":{"type":"text","align":"center","baseline":"middle","fontWeight":"bold"},
"encoding":{"x":{"field":"x","type":"quantitative","axis":null},"y":{"field":"y","type":"quantitative","axis":null},"text":{"field":"t"},
"fill":{"field":"role","type":"nominal","legend":null,"scale":{"domain":["oxide","gebox","ptitle","surface","geo","ge","air","vac","gelab"],"range":["#ccf5cc","#ffff99","#000000","#000000","#000000","#000000","#0000ff","#ff0000","#000000"]}},
"size":{"field":"role","type":"nominal","legend":null,"scale":{"domain":["ptitle","surface","geo","ge","air","vac","gelab"],"range":[19,15,14,16,16,17,16]}}}},
{"data":{"name":"frame"},"transform":[{"filter":"datum.p=='a'"}],"mark":{"type":"rect","fillOpacity":0,"stroke":"black","strokeWidth":3},
"encoding":{"x":{"field":"x1","type":"quantitative","scale":{"domain":[25.5,-5.5],"nice":false,"zero":false},"axis":{"orient":"top","values":[20,15,10,5,0,-5],"labels":false,"tickSize":{"condition":{"test":"datum.value % 10 == 0","value":-8},"value":-5},"title":null}},"x2":{"field":"x2"},
"y":{"field":"y1","type":"quantitative","scale":{"type":"log","domain":[0.00001,10],"nice":false},"axis":{"orient":"right","values":[0.00001,0.00002,0.00003,0.00004,0.00005,0.00006,0.00007,0.00008,0.00009,0.0001,0.0002,0.0003,0.0004,0.0005,0.0006,0.0007,0.0008,0.0009,0.001,0.002,0.003,0.004,0.005,0.006,0.007,0.008,0.009,0.01,0.02,0.03,0.04,0.05,0.06,0.07,0.08,0.09,0.1,0.2,0.3,0.4,0.5,0.6,0.7,0.8,0.9,1,2,3,4,5,6,7,8,9,10],"labels":false,"tickSize":{"condition":{"test":"abs(log(datum.value)/LN10 - round(log(datum.value)/LN10)) < 0.01","value":-8},"value":-4},"title":null}},"y2":{"field":"y2"}}}
]},
{"width":143,"height":245,"resolve":{"axis":{"x":"independent","y":"independent"}},
"layer":[
{"data":{"name":"boxes"},"transform":[{"filter":"datum.p=='b'"}],"mark":{"type":"rect","strokeWidth":1.5},
"encoding":{"x":{"field":"x1","type":"quantitative","scale":{"domain":[25.5,-5.5],"nice":false,"zero":false},"axis":null},"x2":{"field":"x2"},"y":{"field":"y1","type":"quantitative","scale":{"type":"log","domain":[0.00001,10],"nice":false},"axis":null},"y2":{"field":"y2"},
"fill":{"field":"part","type":"nominal","legend":null,"scale":{"domain":["oxide","gebox","ptitle","surface","geo","ge","air","vac","gelab"],"range":["#ccf5cc","#ffff99","#000000","#000000","#000000","#000000","#0000ff","#ff0000","#000000"]}},
"stroke":{"field":"part","type":"nominal","legend":null,"scale":{"domain":["air","vac","ge","ul","oxide","gebox"],"range":["#0000ff","#ff0000","#000000","#555555","#2f9e2f","#d0d070"]}}}},
{"data":{"name":"dash"},"transform":[{"filter":"datum.p=='b'"}],"mark":{"type":"rule","color":"#b4b4b4","strokeWidth":2,"strokeDash":[7,5]},
"encoding":{"x":{"field":"x","type":"quantitative","axis":null},"y":{"field":"y1","type":"quantitative","axis":null},"y2":{"field":"y2"}}},
{"data":{"name":"curves"},"transform":[{"filter":"datum.p=='b'"}],"mark":{"type":"line","strokeWidth":3,"clip":true},
"encoding":{"x":{"field":"x","type":"quantitative","scale":{"domain":[25.5,-5.5],"nice":false,"zero":false},"axis":{"orient":"bottom","values":[20,15,10,5,0,-5],"labelExpr":"datum.value % 10 == 0 ? datum.label : ''","tickSize":{"condition":{"test":"datum.value % 10 == 0","value":-8},"value":-5},"labelFontSize":16,"labelPadding":11,"title":null}},
"y":{"field":"y","type":"quantitative","scale":{"type":"log","domain":[0.00001,10],"nice":false},"axis":{"orient":"left","values":[0.00001,0.00002,0.00003,0.00004,0.00005,0.00006,0.00007,0.00008,0.00009,0.0001,0.0002,0.0003,0.0004,0.0005,0.0006,0.0007,0.0008,0.0009,0.001,0.002,0.003,0.004,0.005,0.006,0.007,0.008,0.009,0.01,0.02,0.03,0.04,0.05,0.06,0.07,0.08,0.09,0.1,0.2,0.3,0.4,0.5,0.6,0.7,0.8,0.9,1,2,3,4,5,6,7,8,9,10],"labels":false,"tickSize":{"condition":{"test":"abs(log(datum.value)/LN10 - round(log(datum.value)/LN10)) < 0.01","value":-8},"value":-4},"title":null}},
"stroke":{"field":"s","type":"nominal","legend":null,"scale":{"domain":["air","vac","ge","ul","oxide","gebox"],"range":["#0000ff","#ff0000","#000000","#555555","#2f9e2f","#d0d070"]}},
"order":{"value":null}}},
{"data":{"name":"segs"},"transform":[{"filter":"datum.p=='b'"}],"mark":{"type":"rule","strokeWidth":2},
"encoding":{"x":{"field":"x1","type":"quantitative","axis":null},"x2":{"field":"x2"},"y":{"field":"y1","type":"quantitative","axis":null},"y2":{"field":"y2"},
"stroke":{"field":"s","type":"nominal","legend":null,"scale":{"domain":["air","vac","ge","ul","oxide","gebox"],"range":["#0000ff","#ff0000","#000000","#555555","#2f9e2f","#d0d070"]}}}},
{"data":{"name":"notes"},"transform":[{"filter":"datum.p=='b' && (datum.role=='ptitle' || datum.role=='surface')"}],"mark":{"type":"text","align":"left","baseline":"middle","fontWeight":"normal"},
"encoding":{"x":{"field":"x","type":"quantitative","axis":null},"y":{"field":"y","type":"quantitative","axis":null},"text":{"field":"t"},
"fill":{"field":"role","type":"nominal","legend":null,"scale":{"domain":["oxide","gebox","ptitle","surface","geo","ge","air","vac","gelab"],"range":["#ccf5cc","#ffff99","#000000","#000000","#000000","#000000","#0000ff","#ff0000","#000000"]}},
"size":{"field":"role","type":"nominal","legend":null,"scale":{"domain":["ptitle","surface","geo","ge","air","vac","gelab"],"range":[19,15,14,16,16,17,16]}}}},
{"data":{"name":"notes"},"transform":[{"filter":"datum.p=='b' && (datum.role=='geo' || datum.role=='ge')"}],"mark":{"type":"text","align":"center","baseline":"middle","fontWeight":"normal"},
"encoding":{"x":{"field":"x","type":"quantitative","axis":null},"y":{"field":"y","type":"quantitative","axis":null},"text":{"field":"t"},
"fill":{"field":"role","type":"nominal","legend":null,"scale":{"domain":["oxide","gebox","ptitle","surface","geo","ge","air","vac","gelab"],"range":["#ccf5cc","#ffff99","#000000","#000000","#000000","#000000","#0000ff","#ff0000","#000000"]}},
"size":{"field":"role","type":"nominal","legend":null,"scale":{"domain":["ptitle","surface","geo","ge","air","vac","gelab"],"range":[19,15,14,16,16,17,16]}}}},
{"data":{"name":"notes"},"transform":[{"filter":"datum.p=='b' && (datum.role=='vac' || datum.role=='gelab')"}],"mark":{"type":"text","align":"left","baseline":"middle","fontWeight":"bold"},
"encoding":{"x":{"field":"x","type":"quantitative","axis":null},"y":{"field":"y","type":"quantitative","axis":null},"text":{"field":"t"},
"fill":{"field":"role","type":"nominal","legend":null,"scale":{"domain":["oxide","gebox","ptitle","surface","geo","ge","air","vac","gelab"],"range":["#ccf5cc","#ffff99","#000000","#000000","#000000","#000000","#0000ff","#ff0000","#000000"]}},
"size":{"field":"role","type":"nominal","legend":null,"scale":{"domain":["ptitle","surface","geo","ge","air","vac","gelab"],"range":[19,15,14,16,16,17,16]}}}},
{"data":{"name":"notes"},"transform":[{"filter":"datum.p=='b' && datum.role=='air'"}],"mark":{"type":"text","align":"center","baseline":"middle","fontWeight":"bold"},
"encoding":{"x":{"field":"x","type":"quantitative","axis":null},"y":{"field":"y","type":"quantitative","axis":null},"text":{"field":"t"},
"fill":{"field":"role","type":"nominal","legend":null,"scale":{"domain":["oxide","gebox","ptitle","surface","geo","ge","air","vac","gelab"],"range":["#ccf5cc","#ffff99","#000000","#000000","#000000","#000000","#0000ff","#ff0000","#000000"]}},
"size":{"field":"role","type":"nominal","legend":null,"scale":{"domain":["ptitle","surface","geo","ge","air","vac","gelab"],"range":[19,15,14,16,16,17,16]}}}},
{"data":{"name":"frame"},"transform":[{"filter":"datum.p=='b'"}],"mark":{"type":"rect","fillOpacity":0,"stroke":"black","strokeWidth":3},
"encoding":{"x":{"field":"x1","type":"quantitative","scale":{"domain":[25.5,-5.5],"nice":false,"zero":false},"axis":{"orient":"top","values":[20,15,10,5,0,-5],"labels":false,"tickSize":{"condition":{"test":"datum.value % 10 == 0","value":-8},"value":-5},"title":null}},"x2":{"field":"x2"},
"y":{"field":"y1","type":"quantitative","scale":{"type":"log","domain":[0.00001,10],"nice":false},"axis":{"orient":"right","values":[0.00001,0.00002,0.00003,0.00004,0.00005,0.00006,0.00007,0.00008,0.00009,0.0001,0.0002,0.0003,0.0004,0.0005,0.0006,0.0007,0.0008,0.0009,0.001,0.002,0.003,0.004,0.005,0.006,0.007,0.008,0.009,0.01,0.02,0.03,0.04,0.05,0.06,0.07,0.08,0.09,0.1,0.2,0.3,0.4,0.5,0.6,0.7,0.8,0.9,1,2,3,4,5,6,7,8,9,10],"labels":false,"tickSize":{"condition":{"test":"abs(log(datum.value)/LN10 - round(log(datum.value)/LN10)) < 0.01","value":-8},"value":-4},"title":null}},"y2":{"field":"y2"}}}
]},
{"width":143,"height":245,"resolve":{"axis":{"x":"independent","y":"independent"}},
"layer":[
{"data":{"name":"boxes"},"transform":[{"filter":"datum.p=='c'"}],"mark":{"type":"rect","strokeWidth":1.5},
"encoding":{"x":{"field":"x1","type":"quantitative","scale":{"domain":[25.5,-5.5],"nice":false,"zero":false},"axis":null},"x2":{"field":"x2"},"y":{"field":"y1","type":"quantitative","scale":{"type":"log","domain":[0.00001,10],"nice":false},"axis":null},"y2":{"field":"y2"},
"fill":{"field":"part","type":"nominal","legend":null,"scale":{"domain":["oxide","gebox","ptitle","surface","geo","ge","air","vac","gelab"],"range":["#ccf5cc","#ffff99","#000000","#000000","#000000","#000000","#0000ff","#ff0000","#000000"]}},
"stroke":{"field":"part","type":"nominal","legend":null,"scale":{"domain":["air","vac","ge","ul","oxide","gebox"],"range":["#0000ff","#ff0000","#000000","#555555","#2f9e2f","#d0d070"]}}}},
{"data":{"name":"dash"},"transform":[{"filter":"datum.p=='c'"}],"mark":{"type":"rule","color":"#b4b4b4","strokeWidth":2,"strokeDash":[7,5]},
"encoding":{"x":{"field":"x","type":"quantitative","axis":null},"y":{"field":"y1","type":"quantitative","axis":null},"y2":{"field":"y2"}}},
{"data":{"name":"curves"},"transform":[{"filter":"datum.p=='c'"}],"mark":{"type":"line","strokeWidth":3,"clip":true},
"encoding":{"x":{"field":"x","type":"quantitative","scale":{"domain":[25.5,-5.5],"nice":false,"zero":false},"axis":{"orient":"bottom","values":[20,15,10,5,0,-5],"labelExpr":"datum.value % 10 == 0 ? datum.label : ''","tickSize":{"condition":{"test":"datum.value % 10 == 0","value":-8},"value":-5},"labelFontSize":16,"labelPadding":11,"title":null}},
"y":{"field":"y","type":"quantitative","scale":{"type":"log","domain":[0.00001,10],"nice":false},"axis":{"orient":"left","values":[0.00001,0.00002,0.00003,0.00004,0.00005,0.00006,0.00007,0.00008,0.00009,0.0001,0.0002,0.0003,0.0004,0.0005,0.0006,0.0007,0.0008,0.0009,0.001,0.002,0.003,0.004,0.005,0.006,0.007,0.008,0.009,0.01,0.02,0.03,0.04,0.05,0.06,0.07,0.08,0.09,0.1,0.2,0.3,0.4,0.5,0.6,0.7,0.8,0.9,1,2,3,4,5,6,7,8,9,10],"labels":false,"tickSize":{"condition":{"test":"abs(log(datum.value)/LN10 - round(log(datum.value)/LN10)) < 0.01","value":-8},"value":-4},"title":null}},
"stroke":{"field":"s","type":"nominal","legend":null,"scale":{"domain":["air","vac","ge","ul","oxide","gebox"],"range":["#0000ff","#ff0000","#000000","#555555","#2f9e2f","#d0d070"]}},
"order":{"value":null}}},
{"data":{"name":"segs"},"transform":[{"filter":"datum.p=='c'"}],"mark":{"type":"rule","strokeWidth":2},
"encoding":{"x":{"field":"x1","type":"quantitative","axis":null},"x2":{"field":"x2"},"y":{"field":"y1","type":"quantitative","axis":null},"y2":{"field":"y2"},
"stroke":{"field":"s","type":"nominal","legend":null,"scale":{"domain":["air","vac","ge","ul","oxide","gebox"],"range":["#0000ff","#ff0000","#000000","#555555","#2f9e2f","#d0d070"]}}}},
{"data":{"name":"notes"},"transform":[{"filter":"datum.p=='c' && (datum.role=='ptitle' || datum.role=='surface')"}],"mark":{"type":"text","align":"left","baseline":"middle","fontWeight":"normal"},
"encoding":{"x":{"field":"x","type":"quantitative","axis":null},"y":{"field":"y","type":"quantitative","axis":null},"text":{"field":"t"},
"fill":{"field":"role","type":"nominal","legend":null,"scale":{"domain":["oxide","gebox","ptitle","surface","geo","ge","air","vac","gelab"],"range":["#ccf5cc","#ffff99","#000000","#000000","#000000","#000000","#0000ff","#ff0000","#000000"]}},
"size":{"field":"role","type":"nominal","legend":null,"scale":{"domain":["ptitle","surface","geo","ge","air","vac","gelab"],"range":[19,15,14,16,16,17,16]}}}},
{"data":{"name":"notes"},"transform":[{"filter":"datum.p=='c' && (datum.role=='geo' || datum.role=='ge')"}],"mark":{"type":"text","align":"center","baseline":"middle","fontWeight":"normal"},
"encoding":{"x":{"field":"x","type":"quantitative","axis":null},"y":{"field":"y","type":"quantitative","axis":null},"text":{"field":"t"},
"fill":{"field":"role","type":"nominal","legend":null,"scale":{"domain":["oxide","gebox","ptitle","surface","geo","ge","air","vac","gelab"],"range":["#ccf5cc","#ffff99","#000000","#000000","#000000","#000000","#0000ff","#ff0000","#000000"]}},
"size":{"field":"role","type":"nominal","legend":null,"scale":{"domain":["ptitle","surface","geo","ge","air","vac","gelab"],"range":[19,15,14,16,16,17,16]}}}},
{"data":{"name":"notes"},"transform":[{"filter":"datum.p=='c' && (datum.role=='vac' || datum.role=='gelab')"}],"mark":{"type":"text","align":"left","baseline":"middle","fontWeight":"bold"},
"encoding":{"x":{"field":"x","type":"quantitative","axis":null},"y":{"field":"y","type":"quantitative","axis":null},"text":{"field":"t"},
"fill":{"field":"role","type":"nominal","legend":null,"scale":{"domain":["oxide","gebox","ptitle","surface","geo","ge","air","vac","gelab"],"range":["#ccf5cc","#ffff99","#000000","#000000","#000000","#000000","#0000ff","#ff0000","#000000"]}},
"size":{"field":"role","type":"nominal","legend":null,"scale":{"domain":["ptitle","surface","geo","ge","air","vac","gelab"],"range":[19,15,14,16,16,17,16]}}}},
{"data":{"name":"notes"},"transform":[{"filter":"datum.p=='c' && datum.role=='air'"}],"mark":{"type":"text","align":"center","baseline":"middle","fontWeight":"bold"},
"encoding":{"x":{"field":"x","type":"quantitative","axis":null},"y":{"field":"y","type":"quantitative","axis":null},"text":{"field":"t"},
"fill":{"field":"role","type":"nominal","legend":null,"scale":{"domain":["oxide","gebox","ptitle","surface","geo","ge","air","vac","gelab"],"range":["#ccf5cc","#ffff99","#000000","#000000","#000000","#000000","#0000ff","#ff0000","#000000"]}},
"size":{"field":"role","type":"nominal","legend":null,"scale":{"domain":["ptitle","surface","geo","ge","air","vac","gelab"],"range":[19,15,14,16,16,17,16]}}}},
{"data":{"name":"frame"},"transform":[{"filter":"datum.p=='c'"}],"mark":{"type":"rect","fillOpacity":0,"stroke":"black","strokeWidth":3},
"encoding":{"x":{"field":"x1","type":"quantitative","scale":{"domain":[25.5,-5.5],"nice":false,"zero":false},"axis":{"orient":"top","values":[20,15,10,5,0,-5],"labels":false,"tickSize":{"condition":{"test":"datum.value % 10 == 0","value":-8},"value":-5},"title":null}},"x2":{"field":"x2"},
"y":{"field":"y1","type":"quantitative","scale":{"type":"log","domain":[0.00001,10],"nice":false},"axis":{"orient":"right","values":[0.00001,0.00002,0.00003,0.00004,0.00005,0.00006,0.00007,0.00008,0.00009,0.0001,0.0002,0.0003,0.0004,0.0005,0.0006,0.0007,0.0008,0.0009,0.001,0.002,0.003,0.004,0.005,0.006,0.007,0.008,0.009,0.01,0.02,0.03,0.04,0.05,0.06,0.07,0.08,0.09,0.1,0.2,0.3,0.4,0.5,0.6,0.7,0.8,0.9,1,2,3,4,5,6,7,8,9,10],"labelExpr":"abs(log(datum.value)/LN10 - round(log(datum.value)/LN10)) < 0.01 ? '10' + ['⁻²','⁻¹','⁰','¹','²','³','⁴'][round(log(datum.value)/LN10)+5] : ''","tickSize":{"condition":{"test":"abs(log(datum.value)/LN10 - round(log(datum.value)/LN10)) < 0.01","value":-8},"value":-4},"labelFontSize":17,"labelPadding":15,"title":"Ge intensity (normalized)","titleFontSize":19.5,"titleX":48,"titleY":122.5,"titleBaseline":"middle","titleAlign":"center","titleAngle":270}},"y2":{"field":"y2"}}}
]}
]
}
